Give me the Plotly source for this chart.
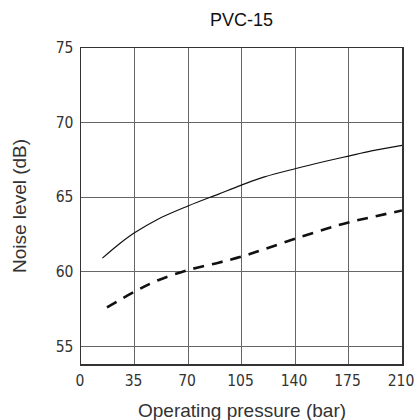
import plotly.graph_objects as go

title = "PVC-15"
x_label = "Operating pressure (bar)"
y_label = "Noise level (dB)"

x_ticks = [0, 35, 70, 105, 140, 175, 210]
y_ticks = [55, 60, 65, 70, 75]

solid_x = [14, 25, 35, 50, 70, 90, 105, 120, 140, 160, 175, 190, 210]
solid_y = [60.9, 61.85, 62.6, 63.5, 64.4, 65.2, 65.8, 66.35, 66.9, 67.4, 67.75, 68.1, 68.47]

dash_x = [17, 35, 50, 70, 90, 105, 120, 140, 160, 175, 190, 210]
dash_y = [57.6, 58.65, 59.4, 60.1, 60.6, 61.0, 61.5, 62.2, 62.85, 63.3, 63.65, 64.1]

fig = go.Figure()
fig.add_trace(go.Scatter(x=solid_x, y=solid_y, mode="lines", line=dict(color="#111", width=1.2, shape="spline"),
                         showlegend=False, hoverinfo="skip"))
fig.add_trace(go.Scatter(x=dash_x, y=dash_y, mode="lines", line=dict(color="#111", width=2.6, dash="11px,8px", shape="spline"),
                         showlegend=False, hoverinfo="skip"))

tick_font = dict(family="DejaVu Sans Condensed, Roboto Condensed, Liberation Sans Narrow, sans-serif", size=15.5, color="#333")
label_font = dict(family="Liberation Sans, Arial, sans-serif", size=19, color="#333")

W, H = 414, 420

fig.update_layout(
    width=W, height=H,
    margin=dict(l=81, r=12, t=48, b=56, autoexpand=False),
    paper_bgcolor="white", plot_bgcolor="white",
    hovermode=False,
    title=dict(text=title, x=0.5, xanchor="center", xref="paper", y=1 - 20 / H, yref="container", yanchor="middle",
               font=dict(family="Liberation Sans, Arial, sans-serif", size=18, color="#111")),
    xaxis=dict(range=[0, 210], tickvals=x_ticks, showgrid=True, gridcolor="#666", gridwidth=1,
               showline=True, linecolor="#333", linewidth=1.5, mirror=True, zeroline=False, automargin=False,
               ticks="", tickfont=tick_font, ticklabelstandoff=2, ticklabelshift=-1, ticklabeloverflow="allow"),
    yaxis=dict(range=[53.8, 75], tickvals=y_ticks, showgrid=True, gridcolor="#666", gridwidth=1,
               showline=True, linecolor="#333", linewidth=1.5, mirror=True, zeroline=False, automargin=False,
               ticks="", tickfont=tick_font, ticklabelstandoff=3, ticklabeloverflow="allow"),
    annotations=[
        dict(text=x_label, x=0.5, y=0, xref="paper", yref="paper", xanchor="center", yanchor="middle",
             yshift=-46, showarrow=False, font=label_font),
        dict(text=y_label, x=0, y=0.5, xref="paper", yref="paper", xanchor="center", yanchor="middle",
             xshift=-62, textangle=-90, showarrow=False, font=label_font),
    ],
)

fig.write_html("out.html", config={"displayModeBar": False, "staticPlot": True},
               post_script="document.body.style.margin='0';document.documentElement.style.overflow='hidden';document.body.style.overflow='hidden';")
